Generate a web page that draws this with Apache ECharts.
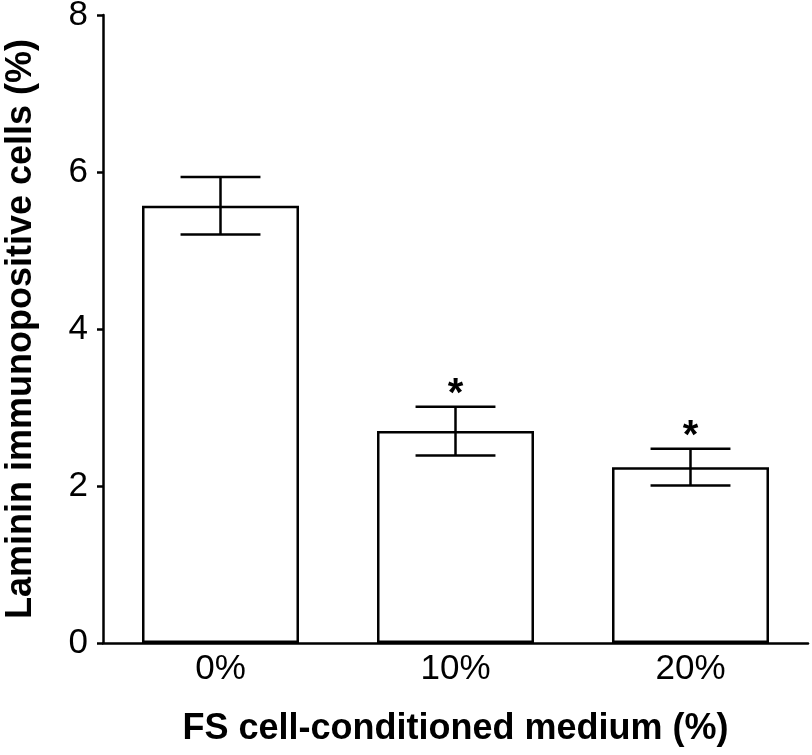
<!DOCTYPE html>
<html>
<head>
<meta charset="utf-8">
<script src="https://cdn.jsdelivr.net/npm/echarts@6/dist/echarts.min.js"></script>
<style>
html,body{margin:0;padding:0;background:#fff;}
#chart{width:812px;height:755px;}
</style>
</head>
<body>
<div id="chart"></div>
<script>
var categories = ['0%', '10%', '20%'];
var means = [5.57, 2.70, 2.24];
var sem = [0.365, 0.31, 0.233];
var marks = ['', '*', '*'];
var yTicks = [0, 2, 4, 6, 8];

var FONT = '"Liberation Sans", Arial, Helvetica, sans-serif';
var chart = echarts.init(document.getElementById('chart'), null, {renderer: 'canvas'});

var errData = categories.map(function (c, i) {
  return [i, means[i] - sem[i], means[i] + sem[i], marks[i]];
});

var option = {
  animation: false,
  backgroundColor: '#ffffff',
  grid: {left: 103, right: 4, top: 15, bottom: 112, containLabel: false, outerBoundsMode: 'none'},
  xAxis: {
    type: 'category',
    data: categories,
    axisLine: {lineStyle: {color: '#000', width: 2.5}},
    axisTick: {show: false},
    axisLabel: {color: '#000', fontSize: 35, fontFamily: FONT, margin: 9},
    name: 'FS cell-conditioned medium (%)',
    nameLocation: 'middle',
    nameGap: 68,
    nameTextStyle: {color: '#000', fontSize: 36, fontWeight: 'bold', fontFamily: FONT}
  },
  yAxis: {
    type: 'value',
    min: 0, max: 8, interval: 2,
    splitLine: {show: false},
    axisLine: {show: true, lineStyle: {color: '#000', width: 2.5}},
    axisTick: {show: true, length: 6, lineStyle: {color: '#000', width: 2.5}},
    axisLabel: {color: '#000', fontSize: 35, fontFamily: FONT, margin: 15,
      formatter: function (v) { return yTicks.indexOf(v) >= 0 ? String(v) : ''; }},
    name: 'Laminin immunopositive cells (%)',
    nameLocation: 'middle',
    nameGap: 64,
    nameTextStyle: {color: '#000', fontSize: 36, fontWeight: 'bold', fontFamily: FONT}
  },
  series: [
    {
      type: 'bar',
      data: means,
      barWidth: '66.8%',
      itemStyle: {color: '#ffffff', borderColor: '#000', borderWidth: 2.5},
      z: 2
    },
    {
      type: 'custom',
      data: errData,
      encode: {x: 0, y: [1, 2]},
      z: 3,
      renderItem: function (params, api) {
        var x = api.value(0);
        var lo = api.coord([x, api.value(1)]);
        var hi = api.coord([x, api.value(2)]);
        var half = api.size([1, 0])[0] * 0.17;
        var style = {stroke: '#000', lineWidth: 2.5};
        var children = [
          {type: 'line', shape: {x1: lo[0], y1: lo[1], x2: hi[0], y2: hi[1]}, style: style},
          {type: 'line', shape: {x1: hi[0] - half, y1: hi[1], x2: hi[0] + half, y2: hi[1]}, style: style},
          {type: 'line', shape: {x1: lo[0] - half, y1: lo[1], x2: lo[0] + half, y2: lo[1]}, style: style}
        ];
        var mark = api.value(3);
        if (mark) {
          children.push({
            type: 'text',
            style: {text: mark, x: hi[0], y: hi[1] - 12, align: 'center', verticalAlign: 'middle',
              fill: '#000', fontSize: 40, fontWeight: 'bold', fontFamily: FONT}
          });
        }
        return {type: 'group', children: children};
      }
    }
  ]
};
chart.setOption(option);
</script>
</body>
</html>
